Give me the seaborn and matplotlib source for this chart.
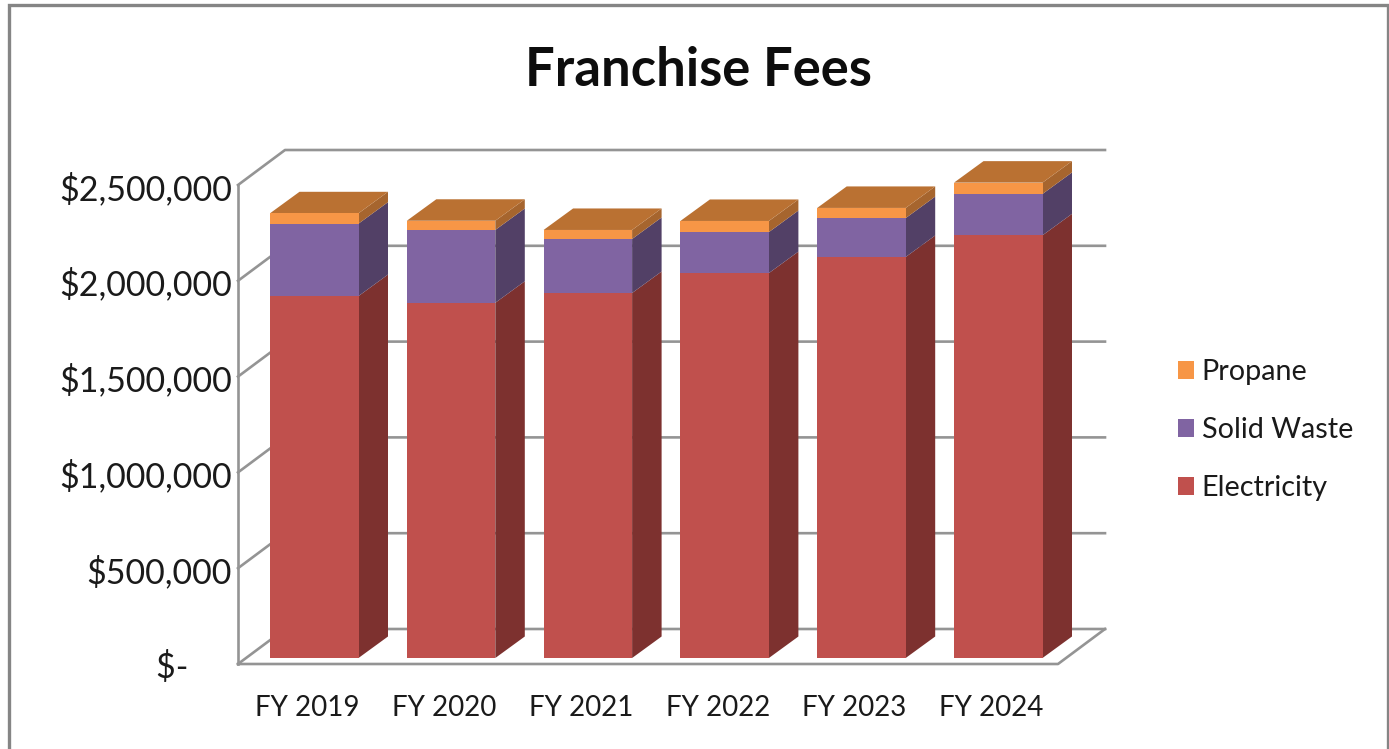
import numpy as np
import pandas as pd
import matplotlib
matplotlib.use("Agg")
import matplotlib.pyplot as plt
import matplotlib.transforms as mtrans
from matplotlib.patches import Polygon, Rectangle
import seaborn as sns

years = ['FY 2019', 'FY 2020', 'FY 2021', 'FY 2022', 'FY 2023', 'FY 2024']
electricity = [1889000, 1854000, 1905000, 2009000, 2093000, 2206000]
solid_waste = [378000, 380000, 282000, 214000, 203000, 216000]
propane = [54000, 48000, 47000, 58000, 53000, 59000]
tick_values = [0, 500000, 1000000, 1500000, 2000000, 2500000]
tick_labels = ['$-     ', '$500,000', '$1,000,000', '$1,500,000', '$2,000,000', '$2,500,000']

#figure size in pixels, everything below is laid out in these
W, H = 1389, 749
sns.set_style('white')
plt.rcParams['font.family'] = ['Lato', 'DejaVu Sans']
TEXT = '#1a1a1a'
GRID = '#949494'

fig = plt.figure(figsize=(W / 100, H / 100), dpi=100)
fig.patch.set_facecolor('white')

#axes: y=0 is the foot of the bars, x runs across the front of the floor
ax_left, ax_right, ax_base, ax_top = 238, 1058, 658, 179
ax = fig.add_axes([ax_left / W, 1 - ax_base / H, (ax_right - ax_left) / W, (ax_base - ax_top) / H])
ax.patch.set_visible(False)

df = pd.DataFrame({'year': years, 'Electricity': electricity,
                   'Solid Waste': solid_waste, 'Propane': propane})

#stacked bars
series = [('Electricity', '#C0504D', '#7D312F'),
          ('Solid Waste', '#8064A2', '#524066'),
          ('Propane', '#F79646', '#A6652E')]
bottom = np.zeros(len(df))
step = 136.8
for name, front, side in series:
    sns.barplot(data=df, x='year', y=name, bottom=bottom, color=front, saturation=1,
                width=88.5 / step, label=name, ax=ax, zorder=3, linewidth=0, legend=False)
    bottom = bottom + df[name].values

centre0 = 314.25
ax.set_xlim((ax_left - centre0) / step, (ax_right - centre0) / step)
ax.set_ylim(0, 2500000)
per_px = 2500000 / (ax_base - ax_top)

#side and top faces of the bars, taken from the drawn bars
bar_dx, bar_dy = 29.5 / step, 21.5 * per_px
for (name, front, side), cont in zip(series, ax.containers):
    for bar in cont:
        x1 = bar.get_x() + bar.get_width()
        y0 = bar.get_y()
        y1 = y0 + bar.get_height()
        ax.add_patch(Polygon([(x1, y0), (x1 + bar_dx, y0 + bar_dy), (x1 + bar_dx, y1 + bar_dy), (x1, y1)],
                             facecolor=side, edgecolor='none', zorder=2.5, clip_on=False))
for bar in ax.containers[-1]:
    x0 = bar.get_x()
    x1 = x0 + bar.get_width()
    y1 = bar.get_y() + bar.get_height()
    ax.add_patch(Polygon([(x0, y1), (x1, y1), (x1 + bar_dx, y1 + bar_dy), (x0 + bar_dx, y1 + bar_dy)],
                         facecolor='#BA7132', edgecolor='none', zorder=2.6, clip_on=False))

#walls and floor, front plane sits a little below the bars
drop = 6 * per_px
wall_dx, wall_dy = 47 / step, 35 * per_px
xa, xb = ax.get_xlim()
line = dict(color=GRID, lw=1.9, zorder=1, clip_on=False, solid_capstyle='projecting')
for v in tick_values:
    ax.plot([xa, xa + wall_dx, xb + wall_dx], [v - drop, v - drop + wall_dy, v - drop + wall_dy], **line)
ax.plot([xa, xa], [-drop, 2500000 - drop], **line)
ax.plot([xa, xb, xb + wall_dx], [-drop, -drop, -drop + wall_dy], **line)

#tick labels
ax.set_xlabel('')
ax.set_ylabel('')
ax.set_yticks(tick_values)
ax.set_yticklabels(tick_labels, fontsize=24.5, color=TEXT)
ax.tick_params(axis='y', length=0, pad=4.5)
ax.tick_params(axis='x', length=0, pad=27, labelsize=20, labelcolor=TEXT)
sns.despine(ax=ax, left=True, bottom=True)
off_y = mtrans.ScaledTranslation(0, -7 / 100, fig.dpi_scale_trans)
for lab in ax.get_yticklabels():
    lab.set_transform(lab.get_transform() + off_y)
off_x = mtrans.ScaledTranslation(-7 / 100, 0, fig.dpi_scale_trans)
for lab in ax.get_xticklabels():
    lab.set_transform(lab.get_transform() + off_x)

#legend, top to bottom like the stack
handles, labels = ax.get_legend_handles_labels()
leg = ax.legend(handles[::-1], labels[::-1], loc='center left', frameon=False,
                bbox_to_anchor=(1178 / W, 1 - 430 / H), bbox_transform=fig.transFigure,
                fontsize=20.7, labelspacing=1.12, handlelength=0.56, handleheight=0.6,
                handletextpad=0.26, borderpad=0, borderaxespad=0)
for t in leg.get_texts():
    t.set_color(TEXT)

fig.text(698 / W, 1 - 71 / H, 'Franchise Fees', fontsize=37.8, fontweight='bold',
         color='#0d0d0d', ha='center', va='center')

#outer frame of the chart, runs off the bottom of the picture
fig.add_artist(Rectangle((9 / W, -0.05), 1378.5 / W, 1.05 - 5 / H, transform=fig.transFigure,
                         facecolor='none', edgecolor='#858585', lw=2.4, zorder=0))

fig.savefig('out.png', dpi=100)
